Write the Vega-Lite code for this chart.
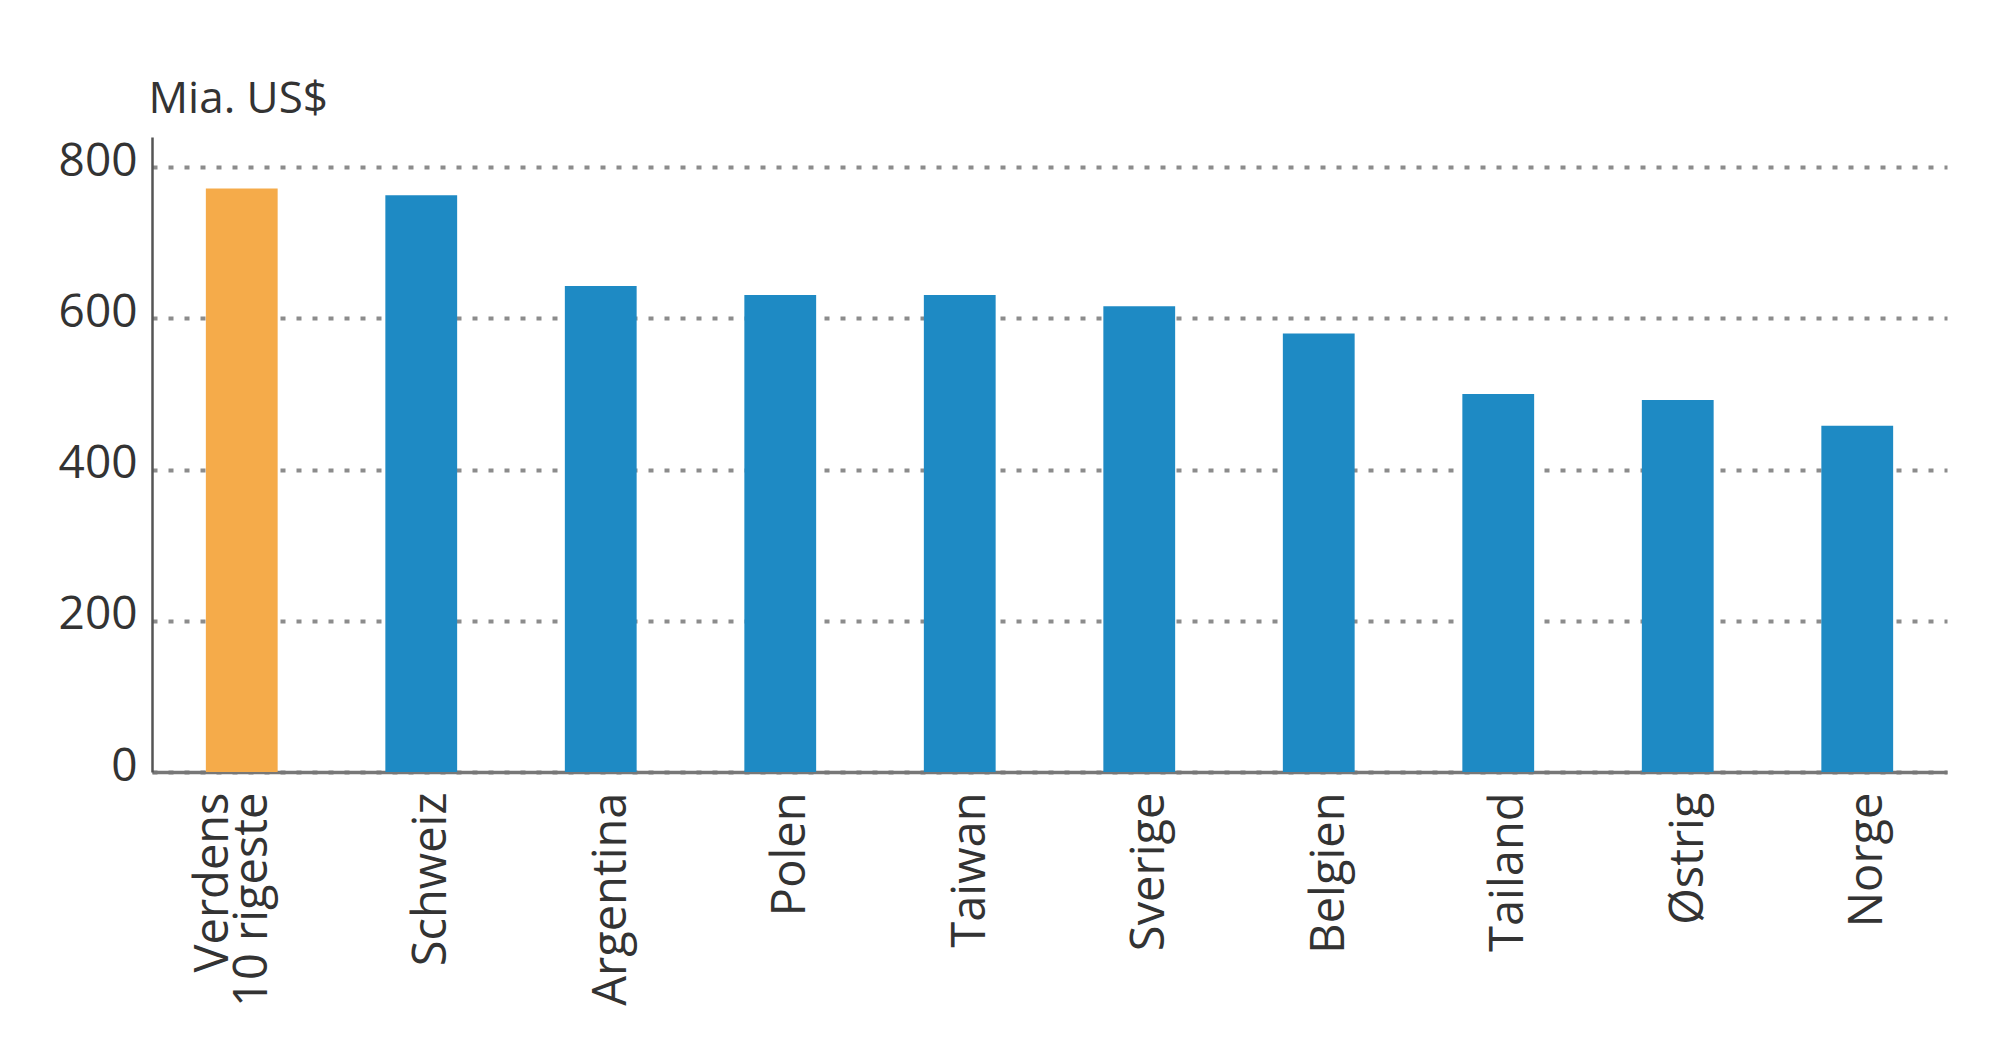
{
  "$schema": "https://vega.github.io/schema/vega-lite/v6.json",
  "width": 1795,
  "height": 635,
  "autosize": {"type": "none"},
  "padding": {"left": 152, "top": 137, "right": 53, "bottom": 283},
  "background": "white",
  "data": {
    "values": [
      {"land": "Verdens|10 rigeste", "mia": 772, "gruppe": "verden"},
      {"land": "Schweiz", "mia": 763, "gruppe": "land"},
      {"land": "Argentina", "mia": 643, "gruppe": "land"},
      {"land": "Polen", "mia": 631, "gruppe": "land"},
      {"land": "Taiwan", "mia": 631, "gruppe": "land"},
      {"land": "Sverige", "mia": 616, "gruppe": "land"},
      {"land": "Belgien", "mia": 580, "gruppe": "land"},
      {"land": "Tailand", "mia": 500, "gruppe": "land"},
      {"land": "Østrig", "mia": 492, "gruppe": "land"},
      {"land": "Norge", "mia": 458, "gruppe": "land"}
    ]
  },
  "mark": {"type": "bar"},
  "encoding": {
    "x": {
      "field": "land",
      "type": "nominal",
      "sort": null,
      "scale": {"paddingInner": 0.6, "paddingOuter": 0.3},
      "axis": {
        "title": null,
        "labelAngle": -90,
        "labelFont": "Open Sans",
        "labelFontSize": 47,
        "labelColor": "#333333",
        "labelPadding": 20,
        "labelLimit": 0,
        "labelLineHeight": 39,
        "labelOffset": {"condition": {"test": "datum.value == 'Verdens|10 rigeste'", "value": -28}, "value": 11},
        "labelExpr": "split(datum.value, '|')",
        "ticks": false,
        "domain": true,
        "domainColor": "#777777",
        "domainWidth": 3.5,
        "grid": false
      }
    },
    "y": {
      "field": "mia",
      "type": "quantitative",
      "scale": {"domain": [0, 840], "nice": false},
      "axis": {
        "values": [0, 200, 400, 600, 800],
        "title": "Mia. US$",
        "titleAngle": 0,
        "titleAlign": "left",
        "titleBaseline": "alphabetic",
        "titleX": -4,
        "titleY": -25,
        "titleFont": "Open Sans",
        "titleFontSize": 44,
        "titleFontWeight": "normal",
        "titleColor": "#333333",
        "labelFont": "Open Sans",
        "labelFontSize": 46,
        "labelColor": "#333333",
        "labelPadding": 15,
        "labelOffset": -6,
        "ticks": false,
        "domain": true,
        "domainColor": "#555555",
        "domainWidth": 2.5,
        "grid": true,
        "gridColor": "#8c8c8c",
        "gridWidth": 4,
        "gridDash": [5, 11]
      }
    },
    "color": {
      "field": "gruppe",
      "type": "nominal",
      "scale": {"domain": ["verden", "land"], "range": ["#F5AB4A", "#1E8AC4"]},
      "legend": null
    }
  },
  "config": {"view": {"stroke": null}}
}
